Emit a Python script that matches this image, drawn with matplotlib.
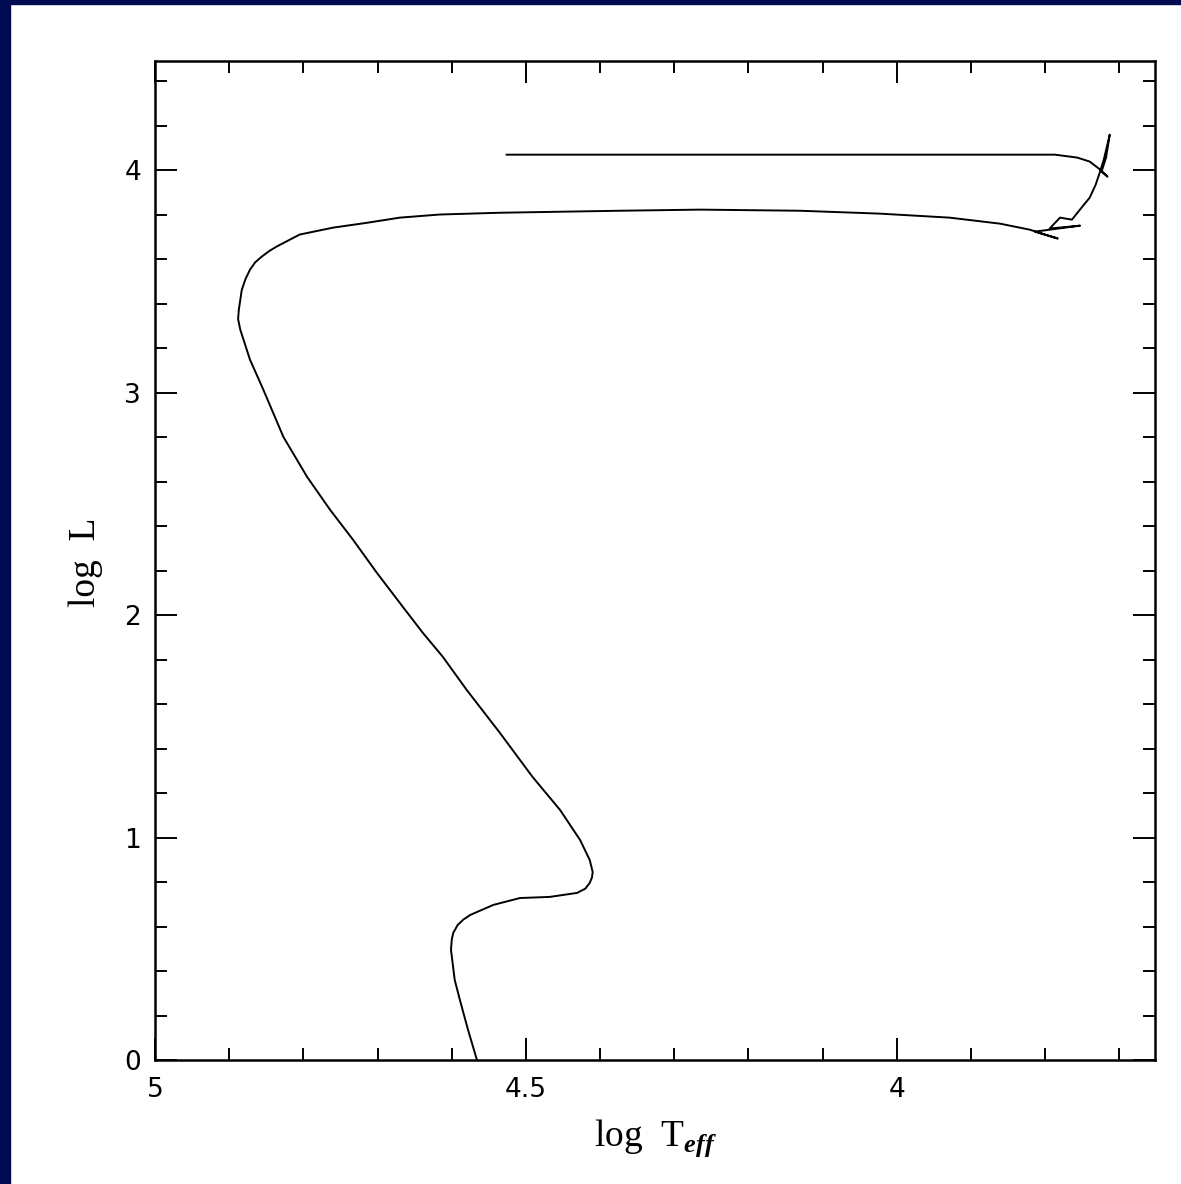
import matplotlib
matplotlib.use("Agg")
import matplotlib.pyplot as plt
from matplotlib.patches import Rectangle
from matplotlib.ticker import MultipleLocator, FixedLocator

# Evolutionary track (log Teff, log L)
log_teff = [4.566, 4.578, 4.589, 4.596, 4.601, 4.600, 4.598, 4.592, 4.584, 4.575,
            4.544, 4.508, 4.468, 4.431, 4.420, 4.414, 4.411, 4.410, 4.414, 4.427,
            4.454, 4.491, 4.535, 4.580, 4.612, 4.639, 4.666, 4.701, 4.733, 4.764,
            4.795, 4.827, 4.854, 4.872, 4.885, 4.888, 4.887, 4.883, 4.878, 4.872,
            4.865, 4.856, 4.846, 4.836, 4.805, 4.760, 4.714, 4.670, 4.616, 4.535,
            4.373, 4.265, 4.131, 4.023, 3.929, 3.861, 3.821, 3.783, 3.814, 3.753,
            3.794, 3.780, 3.764, 3.751, 3.740, 3.732, 3.726, 3.721, 3.713, 3.718,
            3.724, 3.716, 3.726, 3.740, 3.757, 3.787, 4.526]
log_l = [0.000, 0.135, 0.270, 0.360, 0.495, 0.540, 0.571, 0.607, 0.632, 0.652,
         0.697, 0.728, 0.733, 0.751, 0.770, 0.796, 0.820, 0.845, 0.899, 0.989,
         1.124, 1.272, 1.470, 1.664, 1.812, 1.920, 2.037, 2.190, 2.338, 2.473,
         2.621, 2.801, 3.013, 3.148, 3.282, 3.330, 3.372, 3.462, 3.510, 3.552,
         3.585, 3.611, 3.636, 3.656, 3.710, 3.741, 3.763, 3.786, 3.800, 3.808,
         3.817, 3.822, 3.817, 3.804, 3.786, 3.759, 3.732, 3.692, 3.723, 3.750,
         3.737, 3.786, 3.777, 3.831, 3.876, 3.934, 3.993, 4.047, 4.159, 4.056,
         3.993, 3.970, 4.002, 4.038, 4.056, 4.069, 4.069]

x_major = [5.0, 4.5, 4.0]
x_major_labels = ["5", "4.5", "4"]
y_major = [0, 1, 2, 3, 4]
y_major_labels = ["0", "1", "2", "3", "4"]

plt.rcParams['mathtext.fontset'] = 'custom'
plt.rcParams['mathtext.rm'] = 'Liberation Serif'
plt.rcParams['mathtext.bf'] = 'Liberation Serif:bold:italic'

W, H = 1181, 1184
fig = plt.figure(figsize=(W / 100, H / 100), dpi=100)
fig.patch.set_facecolor('white')

navy = '#000a50'
fig.patches.append(Rectangle((0, 1 - 4 / H), 1, 4 / H, transform=fig.transFigure,
                             color=navy, zorder=0))
fig.patches.append(Rectangle((0, 0), 10 / W, 1, transform=fig.transFigure,
                             color=navy, zorder=0))

ax = fig.add_axes([155 / W, 1 - 1060 / H, 1000 / W, 999 / H])
ax.plot(log_teff, log_l, color='black', lw=1.4, solid_joinstyle='round')

ax.set_xlim(5.0, 3.652)
ax.set_ylim(0, 4.49)

ax.xaxis.set_major_locator(FixedLocator(x_major))
ax.set_xticklabels(x_major_labels)
ax.xaxis.set_minor_locator(MultipleLocator(0.1))
ax.yaxis.set_major_locator(FixedLocator(y_major))
ax.set_yticklabels(y_major_labels)
ax.yaxis.set_minor_locator(MultipleLocator(0.2))

for s in ax.spines.values():
    s.set_linewidth(1.8)

ax.tick_params(which='both', direction='in', top=True, right=True, width=1.4,
               labelsize=19, colors='black')
ax.tick_params(which='major', length=15.5)
ax.tick_params(which='minor', length=8.5)
ax.tick_params(axis='x', which='major', pad=12)
ax.tick_params(axis='y', which='major', pad=10)

ax.set_xlabel(r'log  T$_{\mathbf{eff}}$', family='Liberation Serif', fontsize=27)
ax.set_ylabel('log  L', family='Liberation Serif', fontsize=27)
ax.xaxis.set_label_coords(0.501, -0.057)
ax.yaxis.set_label_coords(-0.052, 0.498)

fig.savefig('out.png', dpi=100, facecolor='white')
